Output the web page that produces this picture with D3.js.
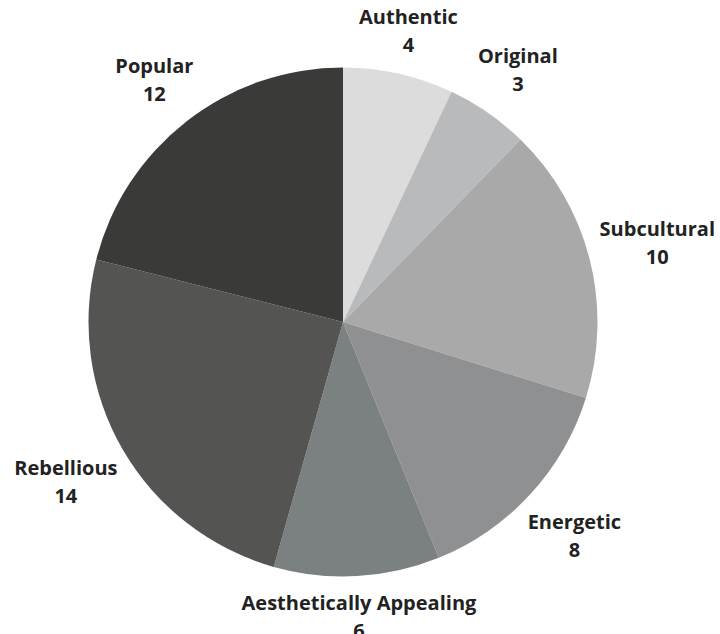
<!DOCTYPE html>
<html>
<head>
<meta charset="utf-8">
<script src="https://cdn.jsdelivr.net/npm/d3@7"></script>
<style>
  body { margin: 0; background: #fff; }
  text { font-family: "Open Sans", sans-serif; font-weight: 700; fill: #222; }
</style>
</head>
<body>
<svg id="chart" width="720" height="634"></svg>
<script>
const categories = ['Authentic', 'Original', 'Subcultural', 'Energetic', 'Aesthetically Appealing', 'Rebellious', 'Popular']
const values = [4, 3, 10, 8, 6, 14, 12]
const sliceColors = ['#dcdcdc', '#b9babc', '#a9a9a9', '#8f9092', '#7b8080', '#545452', '#3a3a38']

const cx = 343, cy = 322, radius = 254.5
const labelGap = 7
const lineHeight = 28

const svg = d3.select('#chart')
const g = svg.append('g').attr('transform', `translate(${cx},${cy})`)

const pie = d3.pie().sort(null).value(d => d.value)
const arc = d3.arc().innerRadius(0).outerRadius(radius)

const data = categories.map((c, i) => ({ name: c, value: values[i], color: sliceColors[i] }))
const arcs = pie(data)

g.selectAll('path.slice')
  .data(arcs).enter().append('path')
  .attr('class', 'slice')
  .attr('d', arc)
  .attr('fill', d => d.data.color)

// labels sit just outside the rim, pushed out by half their own box
const labels = g.selectAll('g.label')
  .data(arcs).enter().append('g')
  .attr('class', 'label')

labels.append('text')
  .attr('text-anchor', 'middle')
  .style('font-size', '20px')
  .attr('y', 0)
  .text(d => d.data.name)

labels.append('text')
  .attr('text-anchor', 'middle')
  .style('font-size', '20px')
  .attr('y', lineHeight)
  .text(d => d.data.value)

labels.attr('transform', function(d) {
  const box = this.getBBox()
  const a = (d.startAngle + d.endAngle) / 2
  const s = Math.sin(a), c = Math.cos(a)
  const r = radius + labelGap + box.width / 2 * Math.abs(s) + box.height / 2 * Math.abs(c)
  const x = r * s - (box.x + box.width / 2)
  const y = -r * c - (box.y + box.height / 2)
  return `translate(${x},${y})`
})
</script>
</body>
</html>
